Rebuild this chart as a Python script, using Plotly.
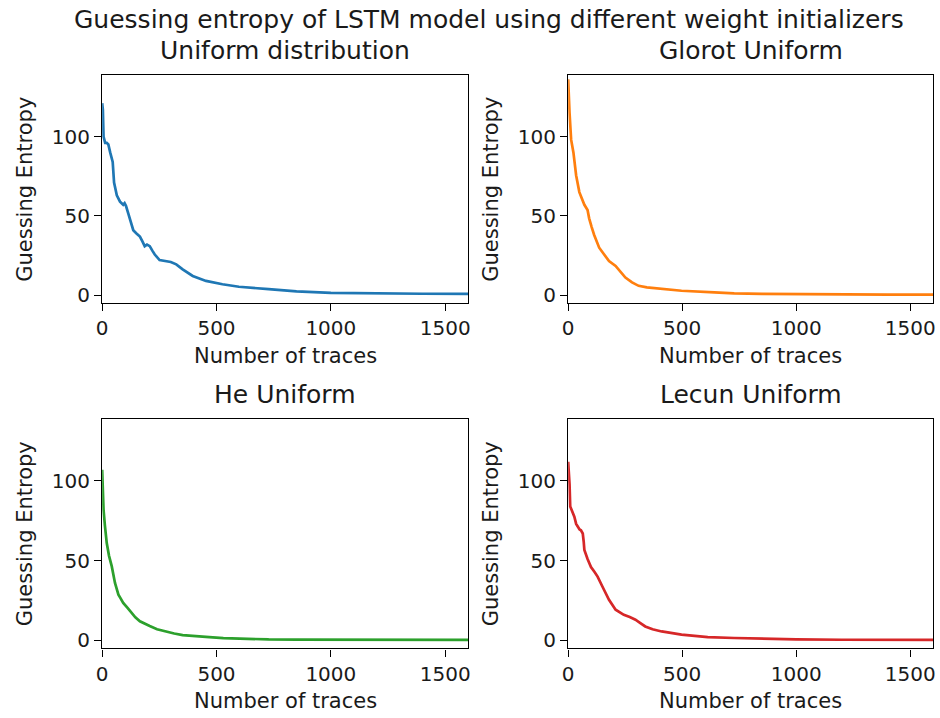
import plotly.graph_objects as go

suptitle = "Guessing entropy of LSTM model using different weight initializers"
titles = ["Uniform distribution", "Glorot Uniform", "He Uniform", "Lecun Uniform"]
colors = ["#1f77b4", "#ff7f0e", "#2ca02c", "#d62728"]
xlabel = "Number of traces"
ylabel = "Guessing Entropy"
xticks = [0, 500, 1000, 1500]
yticks = [0, 50, 100]

uniform_x = [0, 3, 6, 13, 20, 27, 35, 46, 52, 58, 64, 78, 86, 92, 98, 104, 114, 125, 136, 150, 165, 176, 186, 196, 208, 220, 230, 251, 280, 300, 324, 352, 396, 454, 526, 598, 728, 850, 1000, 1200, 1400, 1600]
uniform_y = [121, 117, 100, 96, 96, 95, 90, 84, 71, 67, 63, 59, 58, 57, 58, 56.4, 51.6, 46, 41, 39, 37, 34, 31, 32, 31, 28, 25.7, 22.2, 21.6, 21, 19.5, 16.4, 12.2, 9.1, 7, 5.4, 3.9, 2.5, 1.6, 1.2, 1.0, 0.9]

glorot_x = [0, 3, 6, 13, 23, 35, 49, 60, 71, 85, 92, 103, 114, 136, 155, 179, 208, 230, 251, 280, 309, 345, 381, 440, 497, 641, 728, 850, 1000, 1200, 1400, 1600]
glorot_y = [136, 123, 115, 98, 90, 75.5, 65, 61, 57, 53.7, 48.5, 43, 38, 30, 26, 21.6, 18.5, 14.5, 11.2, 8.2, 6, 5, 4.5, 3.5, 2.9, 1.9, 1.2, 0.9, 0.7, 0.6, 0.5, 0.5]

he_x = [0, 3, 6, 12, 20, 30, 42, 56, 71, 80, 92, 110, 129, 145, 165, 185, 208, 240, 280, 315, 352, 410, 468, 530, 598, 728, 850, 1000, 1200, 1400, 1600]
he_y = [107, 95, 82, 72, 61, 53, 46.4, 36, 28.7, 26.5, 23.5, 20.5, 17.3, 14.5, 12, 10.5, 9, 7, 5.4, 4.3, 3.3, 2.5, 2, 1.4, 1, 0.6, 0.5, 0.4, 0.3, 0.3, 0.3]

lecun_x = [0, 3, 6, 9, 15, 27, 35, 42, 50, 56, 64, 68, 71, 85, 100, 115, 129, 150, 165, 179, 208, 244, 270, 295, 315, 338, 370, 410, 497, 612, 728, 850, 1000, 1200, 1400, 1600]
lecun_y = [112, 106, 98, 84, 82, 77.5, 73, 71, 69.5, 69, 67, 62, 56.7, 51, 46, 43, 40, 33.8, 29.5, 25.4, 19.2, 16, 14.6, 13, 11, 8.75, 7, 5.6, 3.6, 2.1, 1.5, 0.9, 0.6, 0.4, 0.3, 0.3]

series = [(uniform_x, uniform_y), (glorot_x, glorot_y), (he_x, he_y), (lecun_x, lecun_y)]

W, H = 940, 718
# panel pixel boxes (left, right, top, bottom)
boxes = [(97, 466, 75, 305), (567, 935, 75, 305), (97, 466, 421, 652), (567, 935, 421, 652)]

FONT = "DejaVu Sans"
TXT = "#1a1a1a"
fig = go.Figure()
annotations = []
for i, ((xs, ys), (l, r, t, b)) in enumerate(zip(series, boxes)):
    n = "" if i == 0 else str(i + 1)
    fig.add_trace(go.Scatter(x=xs, y=ys, mode="lines", line=dict(color=colors[i], width=2.7),
                             xaxis="x" + n, yaxis="y" + n, showlegend=False))
    axcommon = dict(showline=True, mirror=True, linecolor="black", linewidth=1.3,
                    ticks="outside", ticklen=7, tickwidth=1.3, tickcolor="black",
                    showgrid=False, zeroline=False,
                    tickfont=dict(family=FONT, size=20, color=TXT))
    fig.layout["xaxis" + n] = dict(axcommon, domain=[l / W, r / W], range=[0, 1600],
                                   tickvals=xticks, anchor="y" + n)
    fig.layout["yaxis" + n] = dict(axcommon, domain=[1 - b / H, 1 - t / H], range=[-5, 139],
                                   tickvals=yticks, anchor="x" + n)
    cx = (l + r) / 2 / W
    annotations.append(dict(text=titles[i], x=cx, y=1 - (t - 24) / H, xref="paper", yref="paper",
                            showarrow=False, font=dict(family=FONT, size=25, color=TXT),
                            xanchor="center", yanchor="middle"))
    annotations.append(dict(text=xlabel, x=cx, y=1 - (b + 53) / H, xref="paper", yref="paper",
                            showarrow=False, font=dict(family=FONT, size=21, color=TXT),
                            xanchor="center", yanchor="middle"))
    annotations.append(dict(text=ylabel, x=(l - 78) / W, y=1 - (t + b) / 2 / H, xref="paper", yref="paper",
                            showarrow=False, textangle=-90, font=dict(family=FONT, size=21, color=TXT),
                            xanchor="center", yanchor="middle"))

annotations.append(dict(text=suptitle, x=487 / W, y=1 - 20 / H, xref="paper", yref="paper",
                        showarrow=False, font=dict(family=FONT, size=25, color=TXT),
                        xanchor="center", yanchor="middle"))

fig.update_layout(width=W, height=H, margin=dict(l=0, r=0, t=0, b=0),
                  plot_bgcolor="white", paper_bgcolor="white", annotations=annotations)
fig.write_html("out.html")
